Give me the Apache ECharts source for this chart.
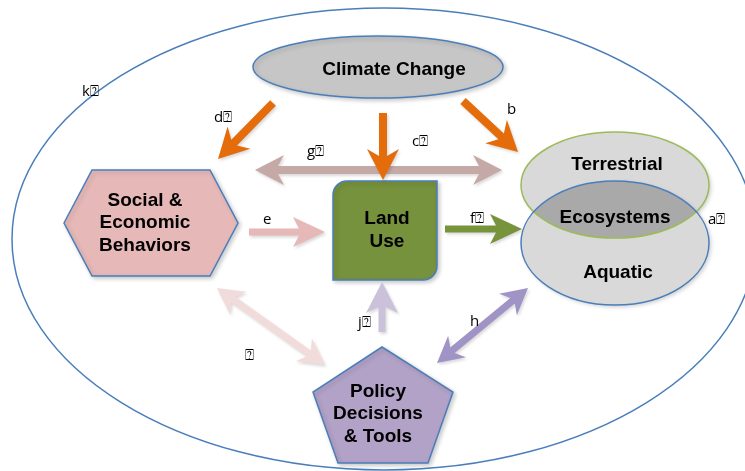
<!DOCTYPE html>
<html>
<head>
<meta charset="utf-8">
<script src="https://cdn.jsdelivr.net/npm/echarts@6/dist/echarts.min.js"></script>
<style>
  html, body { margin: 0; background: #fff; }
  #chart { width: 745px; height: 471px; }
</style>
</head>
<body>
<div id="chart"></div>
<script>
// main boxes of the diagram (centre of each shape, picture coordinates)
const nodeLabels = ['Climate Change', 'Social &\nEconomic\nBehaviors', 'Land\nUse', 'Policy\nDecisions\n& Tools'];
const nodeX = [378, 151, 385, 383];
const nodeY = [67, 223, 230.5, 405];

// ecosystems venn
const ecoLabels = ['Terrestrial', 'Ecosystems', 'Aquatic'];
const ecoX = [617, 615, 618];
const ecoY = [165, 218, 273];

// links between boxes (drawn in this order)
const arrowKeys = ['g', 'e', 'f', 'j', 'h', 'i', 'd', 'c', 'b'];
const arrowX1 = [255, 249, 445, 382, 437, 325, 273, 383, 463];
const arrowY1 = [170, 232, 229, 332, 363, 365, 103, 113, 101];
const arrowX2 = [502, 325, 522, 382, 528, 217, 218, 383, 518];
const arrowY2 = [170, 232, 229, 282, 288, 288, 159, 180, 152];
const arrowBoth = [1, 0, 0, 0, 1, 1, 0, 0, 0];

// small letters next to the links
const letterText = ['k⍰', 'd⍰', 'g⍰', 'c⍰', 'b', 'e', 'f⍰', 'a⍰', 'j⍰', 'h', '⍰'];
const letterX = [82, 214, 307, 412, 507, 263, 470, 708, 358, 470, 245];
const letterY = [92, 118, 152, 142, 110, 220, 219, 220, 323, 322, 356];

const BLUE = '#4a7ebb';
const BOLD = 'bold 19px "Liberation Sans", Arial, sans-serif';
const shadow = { shadowBlur: 4, shadowOffsetX: 2, shadowOffsetY: 2, shadowColor: 'rgba(0,0,0,0.2)' };
const arrowShadow = { shadowBlur: 3, shadowOffsetX: 1.5, shadowOffsetY: 2, shadowColor: 'rgba(0,0,0,0.15)' };

const arrowStyle = {
  d: { color: '#e46c0a', shaft: 8, head: 16, len: 30, notch: 7 },
  c: { color: '#e46c0a', shaft: 8, head: 16, len: 31, notch: 7 },
  b: { color: '#e46c0a', shaft: 8, head: 16, len: 30, notch: 7 },
  g: { color: '#c5a9a6', shaft: 8, head: 15, len: 29, notch: 6 },
  e: { color: '#e6b9b8', shaft: 7, head: 15, len: 32, notch: 6 },
  f: { color: '#77933c', shaft: 7, head: 15, len: 32, notch: 6 },
  j: { color: '#ccc1da', shaft: 7, head: 16, len: 31, notch: 6 },
  h: { color: '#a093c6', shaft: 7, head: 14, len: 26, notch: 6 },
  i: { color: '#f2dcdb', shaft: 7, head: 14, len: 26, notch: 6 }
};

function arrowPoints(p1, p2, both, s) {
  const dx = p2[0] - p1[0], dy = p2[1] - p1[1];
  const l = Math.hypot(dx, dy);
  const ux = dx / l, uy = dy / l, nx = -uy, ny = ux;
  const at = (p, d, o) => [p[0] + ux * d + nx * o, p[1] + uy * d + ny * o];
  const w = s.shaft / 2;
  const back = s.len - s.notch;
  const pts = [];
  if (both) {
    pts.push(p1, at(p1, s.len, s.head), at(p1, back, w));
  } else {
    pts.push(at(p1, 0, w));
  }
  pts.push(at(p2, -back, w), at(p2, -s.len, s.head), p2, at(p2, -s.len, -s.head), at(p2, -back, -w));
  if (both) {
    pts.push(at(p1, back, -w), at(p1, s.len, -s.head));
  } else {
    pts.push(at(p1, 0, -w));
  }
  return pts;
}

function textEl(str, x, y, font) {
  return {
    type: 'text',
    style: { text: str, x: x, y: y, font: font, fill: '#000', align: 'center', verticalAlign: 'middle', lineHeight: 22.5 }
  };
}

function renderNode(params, api) {
  const i = params.dataIndex;
  const c = api.coord([api.value(0), api.value(1)]);
  const x = c[0], y = c[1];
  const base = { stroke: BLUE, lineWidth: 1.5 };
  let shape;
  let tx = x, ty = y;
  if (i === 0) {
    shape = { type: 'ellipse', shape: { cx: x, cy: y, rx: 125, ry: 31 },
      style: Object.assign({ fill: '#c6c6c6' }, base, shadow) };
    tx = x + 16; ty = y + 3;
  } else if (i === 1) {
    shape = { type: 'polygon', shape: { points: [[x - 87, y], [x - 59, y - 53], [x + 59, y - 53], [x + 87, y], [x + 59, y + 53], [x - 59, y + 53]] },
      style: Object.assign({ fill: '#e6b9b8' }, base, shadow) };
    tx = x - 6; ty = y;
  } else if (i === 2) {
    shape = { type: 'rect', shape: { x: x - 52, y: y - 49.5, width: 104, height: 99, r: [14, 0, 14, 0] },
      style: Object.assign({ fill: '#76923c' }, base, shadow) };
    tx = x + 2;
  } else {
    shape = { type: 'polygon', shape: { points: [[x - 1, y - 58], [x + 70, y - 13], [x + 45, y + 58], [x - 45, y + 58], [x - 70, y - 13]] },
      style: Object.assign({ fill: '#b3a2c7' }, base, shadow) };
    tx = x - 5; ty = y + 9;
  }
  return { type: 'group', children: [shape, textEl(nodeLabels[i], tx, ty, BOLD)] };
}

// ellipse sizes for the venn
const TER = { cx: 615, cy: 185, rx: 94, ry: 53 };
const AQU = { cx: 615, cy: 243, rx: 94, ry: 62 };

function inside(e, p) {
  const a = (p[0] - e.cx) / e.rx, b = (p[1] - e.cy) / e.ry;
  return a * a + b * b <= 1.0001;
}

function lens(e1, e2) {
  const pts = [];
  const add = (e, o) => {
    for (let k = 0; k < 360; k++) {
      const t = k / 360 * Math.PI * 2;
      const p = [e.cx + e.rx * Math.cos(t), e.cy + e.ry * Math.sin(t)];
      if (inside(o, p)) pts.push(p);
    }
  };
  add(e1, e2); add(e2, e1);
  const mx = pts.reduce((s, p) => s + p[0], 0) / pts.length;
  const my = pts.reduce((s, p) => s + p[1], 0) / pts.length;
  pts.sort((a, b) => Math.atan2(a[1] - my, a[0] - mx) - Math.atan2(b[1] - my, b[0] - mx));
  return pts;
}

function renderVenn(params, api) {
  const o = api.coord([0, 0]);
  const sh = (e) => ({ cx: e.cx + o[0], cy: e.cy + o[1], rx: e.rx, ry: e.ry });
  const t = sh(TER), a = sh(AQU);
  const children = [
    { type: 'ellipse', shape: t, style: Object.assign({ fill: '#d9d9d9' }, shadow) },
    { type: 'ellipse', shape: a, style: Object.assign({ fill: '#d9d9d9' }, shadow) },
    { type: 'polygon', shape: { points: lens(t, a) }, style: { fill: '#a9a9a9' } },
    { type: 'ellipse', shape: t, style: { fill: 'none', stroke: '#9bbb59', lineWidth: 1.5 } },
    { type: 'ellipse', shape: a, style: { fill: 'none', stroke: BLUE, lineWidth: 1.5 } }
  ];
  ecoLabels.forEach((lbl, k) => {
    const c = api.coord([ecoX[k], ecoY[k]]);
    children.push(textEl(lbl, c[0], c[1], BOLD));
  });
  return { type: 'group', children: children };
}

function renderArrow(params, api) {
  const i = params.dataIndex;
  const p1 = api.coord([api.value(0), api.value(1)]);
  const p2 = api.coord([api.value(2), api.value(3)]);
  const s = arrowStyle[arrowKeys[i]];
  return {
    type: 'polygon',
    shape: { points: arrowPoints(p1, p2, arrowBoth[i], s) },
    style: Object.assign({ fill: s.color }, arrowShadow)
  };
}

function renderLetter(params, api) {
  const i = params.dataIndex;
  const c = api.coord([api.value(0), api.value(1)]);
  return {
    type: 'text',
    style: { text: letterText[i], x: c[0], y: c[1], font: '15px "Open Sans", "DejaVu Sans", sans-serif', fill: '#000', align: 'left', verticalAlign: 'middle' }
  };
}

function renderFrame(params, api) {
  const c = api.coord([384, 239]);
  return { type: 'ellipse', shape: { cx: c[0], cy: c[1], rx: 372, ry: 231 }, style: { fill: 'none', stroke: BLUE, lineWidth: 1.5 } };
}

const chart = echarts.init(document.getElementById('chart'), null, { renderer: 'canvas' });
chart.setOption({
  backgroundColor: '#fff',
  animation: false,
  grid: { left: 0, right: 0, top: 0, bottom: 0 },
  xAxis: { type: 'value', min: 0, max: 745, show: false },
  yAxis: { type: 'value', min: 0, max: 471, inverse: true, show: false },
  series: [
    { type: 'custom', name: 'frame', clip: false, data: [[0]], renderItem: renderFrame },
    { type: 'custom', name: 'nodes', clip: false,
      data: nodeLabels.map((n, i) => [nodeX[i], nodeY[i]]),
      renderItem: renderNode },
    { type: 'custom', name: 'ecosystems', clip: false, data: [[0]], renderItem: renderVenn },
    { type: 'custom', name: 'links', clip: false,
      data: arrowKeys.map((k, i) => [arrowX1[i], arrowY1[i], arrowX2[i], arrowY2[i]]),
      renderItem: renderArrow },
    { type: 'custom', name: 'letters', clip: false,
      data: letterText.map((t, i) => [letterX[i], letterY[i]]),
      renderItem: renderLetter }
  ]
});
</script>
</body>
</html>
